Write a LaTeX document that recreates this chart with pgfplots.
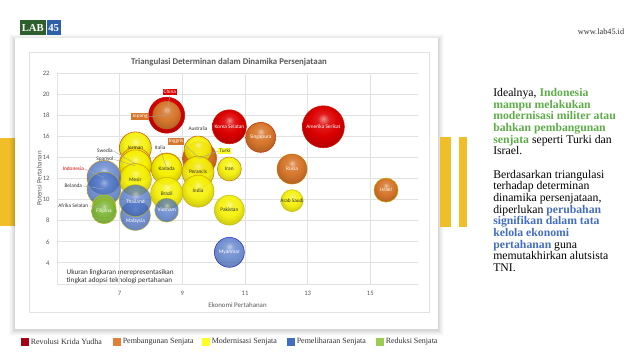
\documentclass[border=0pt]{standalone}
\usepackage{pgfplots}
\pgfplotsset{compat=1.18}
\usepackage{fontspec}
\setmainfont{Liberation Serif}
\newfontfamily\calib{Carlito}
\definecolor{cred}{RGB}{220,0,0}
\definecolor{corange}{RGB}{214,118,44}
\definecolor{cyellow}{RGB}{245,240,0}
\definecolor{cblue}{RGB}{70,110,195}
\definecolor{cgreen}{RGB}{130,185,60}
\definecolor{lred}{RGB}{165,0,20}
\definecolor{lorange}{RGB}{222,128,58}
\definecolor{lyellow}{RGB}{255,255,40}
\definecolor{lblue}{RGB}{65,110,190}
\definecolor{lgreen}{RGB}{155,205,85}
\definecolor{gridc}{RGB}{225,225,225}
\definecolor{txtg}{RGB}{89,89,89}
\definecolor{tdark}{RGB}{50,50,50}
\definecolor{tgreen}{RGB}{95,172,75}
\definecolor{tblue}{RGB}{68,110,190}
\definecolor{barc}{RGB}{240,190,40}
\definecolor{logog}{RGB}{45,95,45}
\definecolor{logob}{RGB}{45,95,170}
\newcommand{\xlball}[2]{\pgfdeclareradialshading{#1}{\pgfpoint{0bp}{10bp}}{color(0bp)=(#2!45!white); color(7bp)=(#2!88!white); color(17bp)=(#2); color(29bp)=(#2!82!black); color(37bp)=(#2!58!black); color(50bp)=(#2!50!black)}}
\xlball{sred}{cred}
\xlball{sorange}{corange}
\xlball{syellow}{cyellow}
\xlball{sblue}{cblue}
\xlball{sgreen}{cgreen}
\tikzset{
  bl/.style={font=\calib\fontsize{4}{4.5}\selectfont, text=white, inner sep=0.5pt},
  dl/.style={font=\calib\fontsize{4}{4.5}\selectfont, text=tdark, inner sep=0.5pt},
  ld/.style={draw=gray!70, line width=0.3pt},
}
\pgfdeclareplotmark{bred}{\shade[shading=sred] (0pt,0pt) circle (\pgfplotmarksize);}
\pgfdeclareplotmark{borange}{\shade[shading=sorange] (0pt,0pt) circle (\pgfplotmarksize);}
\pgfdeclareplotmark{byellow}{\shade[shading=syellow,opacity=0.92] (0pt,0pt) circle (\pgfplotmarksize);}
\pgfdeclareplotmark{bblue}{\shade[shading=sblue,opacity=0.75] (0pt,0pt) circle (\pgfplotmarksize);}
\pgfdeclareplotmark{bgreen}{\shade[shading=sgreen,opacity=0.92] (0pt,0pt) circle (\pgfplotmarksize);}
\pgfplotstableread{
x y r
8.5 18 18
10.5 16.9 17
13.5 16.9 21
}\tred
\pgfplotstableread{
x y r
9.55 13.9 17
9.55 13.9 16
8.5 18 14.5
11.5 15.9 15
12.5 12.9 15
15.5 10.9 12
}\torange
\pgfplotstableread{
x y r
7.5 14.9 16
7.5 13.4 16
7.5 13.2 16
7.5 11.9 16
8.5 13 15
8.5 12.9 15.5
8.5 10.6 16
9.5 14.7 14
9.5 12.6 16
9.5 10.8 16
10.5 12.9 12
10.5 9 15
12.5 9.9 11
}\tyellow
\pgfplotstableread{
x y r
6.5 12.1 17
6.5 11 17
7.5 8.5 15
7.5 9.9 16
8.5 9 12
10.5 5 15
}\tblue
\pgfplotstableread{
x y r
6.5 9.3 12
6.5 8.9 12.5
}\tgreen
\begin{document}
\begin{tikzpicture}
\path[use as bounding box, fill=white] (0,0) rectangle (480pt,270pt);
\begin{scope}[shift={(0pt,270pt)},x=0.75pt,y=-0.75pt]
% yellow bars
\fill[barc] (0,138) rectangle (18,226);
% card shadow
\foreach \i/\o in {6/0.015,5/0.02,4/0.025,3/0.03,2/0.035,1/0.04}{
  \fill[black,opacity=\o] (15-\i,38-\i+2) rectangle (438+\i,329+\i+1.5);
}
\fill[white] (15,38) rectangle (438,329);
\draw[gridc,line width=0.4pt] (29,52) rectangle (429,312);
\fill[barc] (440,137) rectangle (451,227);
\fill[barc] (459,137) rectangle (467,227);
% logo
\fill[logog] (20,20) rectangle (45.5,35);
\fill[logob] (46.5,20) rectangle (61,35);
\node[text=white,font=\bfseries\fontsize{8}{9}\selectfont] at (32.75,27.8) {LAB};
\node[text=white,font=\bfseries\fontsize{8}{9}\selectfont] at (53.75,27.8) {45};
\node[text=tdark,font=\fontsize{6.2}{7}\selectfont] at (601,32) {www.lab45.id};
% title
\node[text=txtg,font=\calib\bfseries\fontsize{6.6}{8}\selectfont] at (229,62) {Triangulasi Determinan dalam Dinamika Persenjataan};
% note
\node[anchor=west,align=left,text=tdark,font=\calib\fontsize{5.4}{6.1}\selectfont] at (62,277) {Ukuran lingkaran merepresentasikan\\tingkat adopsi teknologi pertahanan};
% right text
\node[anchor=north west,align=left,text=black,font=\fontsize{8.8}{8.75}\selectfont,inner sep=0pt] at (493,88) {%
Idealnya, \textcolor{tgreen}{\textbf{Indonesia}}\\
\textcolor{tgreen}{\textbf{mampu melakukan}}\\
\textcolor{tgreen}{\textbf{modernisasi militer atau}}\\
\textcolor{tgreen}{\textbf{bahkan pembangunan}}\\
\textcolor{tgreen}{\textbf{senjata}} seperti Turki dan\\
Israel.\\[8.75pt]
Berdasarkan triangulasi\\
terhadap determinan\\
dinamika persenjataan,\\
diperlukan \textcolor{tblue}{\textbf{perubahan}}\\
\textcolor{tblue}{\textbf{signifikan dalam tata}}\\
\textcolor{tblue}{\textbf{kelola ekonomi}}\\
\textcolor{tblue}{\textbf{pertahanan}} guna\\
memutakhirkan alutsista\\
TNI.};
% legend
\foreach \xx/\cc/\tt in {21/lred/Revolusi Krida Yudha,113/lorange/Pembangunan Senjata,202/lyellow/Modernisasi Senjata,287/lblue/Pemeliharaan Senjata,376/lgreen/Reduksi Senjata}{
  \fill[\cc] (\xx,338) rectangle (\xx+7.5,346);
  \node[anchor=west,inner sep=0pt,text=tdark,font=\fontsize{6}{7}\selectfont] at (\xx+9.5,342) {\tt};
}
\end{scope}
\begin{axis}[
  at={(42.75pt,57pt)}, anchor=south west,
  width=270.75pt, height=158.25pt, scale only axis,
  xmin=5, xmax=16.52, ymin=2, ymax=22,
  xtick={7,9,11,13,15}, ytick={4,6,...,22},
  grid=major, major grid style={gridc, line width=0.6pt},
  axis x line*=bottom, axis y line*=left,
  axis line style={gridc, line width=0.6pt, -},
  major tick length=0pt,
  ticklabel style={font=\calib\fontsize{5}{6}\selectfont, text=txtg},
  /pgf/number format/assume math mode=true,
  xticklabel style={yshift=-2pt},
  yticklabel style={xshift=-2pt},
  xlabel={Ekonomi Pertahanan}, ylabel={Potensi Pertahanan},
  label style={font=\calib\fontsize{5.2}{6}\selectfont, text=txtg},
  xlabel style={yshift=2pt},
  ylabel style={yshift=-6pt},
  clip=false,
  ballplot/.style={scatter, only marks, mark=#1,
    visualization depends on={\thisrow{r} \as \rr},
    scatter/@pre marker code/.append style={/tikz/mark size={0.75*\rr}}},
]
\addplot[ballplot=bred] table {\tred};
\addplot[ballplot=borange] table {\torange};
\addplot[ballplot=byellow] table {\tyellow};
\addplot[ballplot=bblue] table {\tblue};
\addplot[ballplot=bgreen] table {\tgreen};
% label anchor points
\coordinate (kor) at (axis cs:10.5,16.9);
\coordinate (ame) at (axis cs:13.5,16.9);
\coordinate (sin) at (axis cs:11.5,15.9);
\coordinate (rus) at (axis cs:12.5,12.9);
\coordinate (isr) at (axis cs:15.5,10.9);
\coordinate (jer) at (axis cs:7.5,14.9);
\coordinate (mes) at (axis cs:7.5,11.9);
\coordinate (kan) at (axis cs:8.5,12.9);
\coordinate (bra) at (axis cs:8.5,10.6);
\coordinate (per) at (axis cs:9.5,12.6);
\coordinate (ind) at (axis cs:9.5,10.8);
\coordinate (ira) at (axis cs:10.5,12.9);
\coordinate (pak) at (axis cs:10.5,9);
\coordinate (ara) at (axis cs:12.5,9.9);
\coordinate (tha) at (axis cs:7.5,9.8);
\coordinate (mal) at (axis cs:7.5,8.0);
\coordinate (vie) at (axis cs:8.5,9);
\coordinate (mya) at (axis cs:10.5,5);
\coordinate (fil) at (axis cs:6.5,8.9);
\coordinate (chiP) at (axis cs:8.5,18);
\coordinate (ausP) at (axis cs:9.55,13.9);
\coordinate (sweP) at (axis cs:7.5,13.4);
\coordinate (spaP) at (axis cs:7.5,13.2);
\coordinate (itaP) at (axis cs:8.5,13);
\coordinate (idnP) at (axis cs:6.5,12.1);
\coordinate (belP) at (axis cs:6.5,11);
\coordinate (afrP) at (axis cs:6.5,9.3);
\coordinate (chiL) at (axis cs:8.6,20.2);
\coordinate (jepL) at (axis cs:7.65,17.86);
\coordinate (ingL) at (axis cs:8.8,15.55);
\coordinate (turL) at (axis cs:10.36,14.6);
\coordinate (ausL) at (axis cs:9.5,16.7);
\coordinate (sweL) at (axis cs:6.53,14.6);
\coordinate (spaL) at (axis cs:6.53,13.8);
\coordinate (itaL) at (axis cs:8.29,14.96);
\coordinate (idnL) at (axis cs:5.52,12.9);
\coordinate (belL) at (axis cs:5.52,11.3);
\coordinate (afrL) at (axis cs:5.52,9.4);
\end{axis}
% labels on top of bubbles
\node[bl] at (kor) {Korea Selatan};
\node[bl] at (ame) {Amerika Serikat};
\node[bl] at (sin) {Singapura};
\node[bl] at (rus) {Rusia};
\node[bl] at (isr) {Israel};
\node[dl] at (jer) {Jerman};
\node[dl] at (mes) {Mesir};
\node[dl] at (kan) {Kanada};
\node[dl] at (bra) {Brazil};
\node[dl] at (per) {Perancis};
\node[dl] at (ind) {India};
\node[dl] at (ira) {Iran};
\node[dl] at (pak) {Pakistan};
\node[dl] at (ara) {Arab Saudi};
\node[bl] at (tha) {Thailand};
\node[bl] at (mal) {Malaysia};
\node[bl] at (vie) {Vietnam};
\node[bl] at (mya) {Myanmar};
\node[bl] at (fil) {Filipina};
\node[bl,fill=cred,inner sep=0.9pt] (nchi) at (chiL) {China};
\node[bl,fill=corange,inner sep=0.9pt] (njep) at (jepL) {Jepang};
\node[bl,fill=corange,inner sep=0.9pt] (ning) at (ingL) {Inggris};
\node[dl,fill=lyellow,inner sep=0.9pt] (ntur) at (turL) {Turki};
\node[dl] (naus) at (ausL) {Australia};
\node[dl] (nswe) at (sweL) {Swedia};
\node[dl] (nspa) at (spaL) {Spanyol};
\node[dl] (nita) at (itaL) {Italia};
\node[dl,text=red!85!black] (nidn) at (idnL) {Indonesia};
\node[dl] (nbel) at (belL) {Belanda};
\node[dl] (nafr) at (afrL) {Afrika Selatan};
\draw[ld] (nchi.south) -- (chiP);
\draw[ld] (njep.east) -- (chiP);
\draw[ld] (ning.south east) -- (ausP);
\draw[ld] (ntur.west) -- (ausP);
\draw[ld] (nswe.east) -- (sweP);
\draw[ld] (nspa.east) -- (spaP);
\draw[ld] (nita.south) -- (itaP);
\draw[ld] (nidn.east) -- (idnP);
\draw[ld] (nbel.east) -- (belP);
\draw[ld] (nafr.east) -- (afrP);
\end{tikzpicture}
\end{document}
